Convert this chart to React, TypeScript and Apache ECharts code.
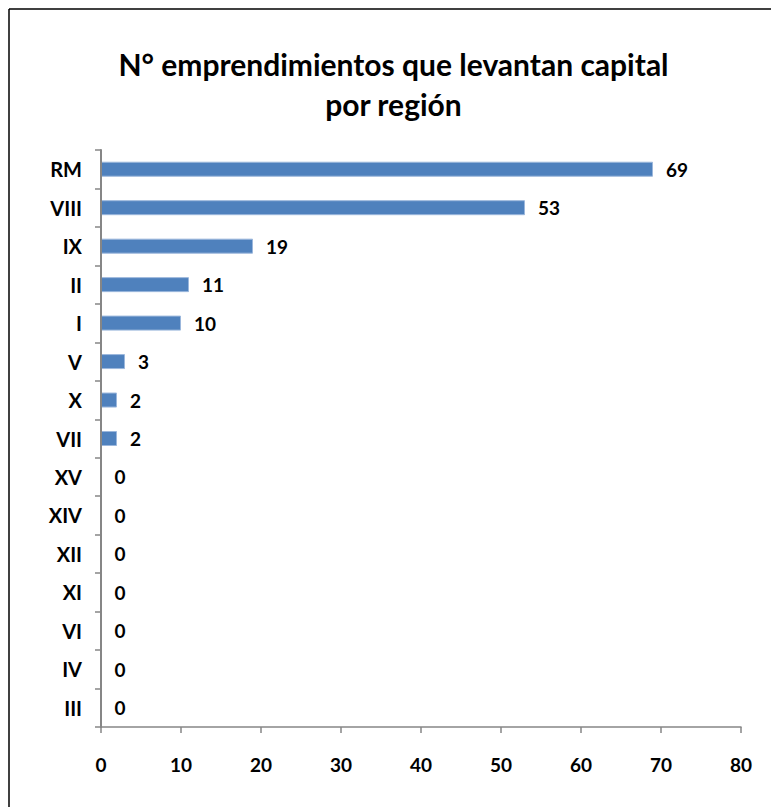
import React, { useEffect, useRef } from "react";
import * as echarts from "echarts";

const titleText = "N° emprendimientos que levantan capital\npor región";
const regions = ["RM", "VIII", "IX", "II", "I", "V", "X", "VII", "XV", "XIV", "XII", "XI", "VI", "IV", "III"];
const counts = [69, 53, 19, 11, 10, 3, 2, 2, 0, 0, 0, 0, 0, 0, 0];
const xMin = 0;
const xMax = 80;
const xStep = 10;

const FONT = "Lato, 'Open Sans', 'DejaVu Sans', sans-serif";

export default function App() {
  const ref = useRef<HTMLDivElement>(null);
  useEffect(() => {
    if (!ref.current) return;
    const chart = echarts.init(ref.current, undefined, { renderer: "svg" });
    chart.setOption({
      animation: false,
      backgroundColor: "#ffffff",
      title: {
        text: titleText,
        left: "center",
        top: 31,
        textStyle: {
          fontFamily: FONT,
          fontWeight: "bold",
          fontSize: 30,
          lineHeight: 40,
          color: "#000",
        },
      },
      graphic: [
        { type: "line", shape: { x1: 1, y1: 1, x2: 1, y2: 799 }, style: { stroke: "#000", lineWidth: 1.5 } },
        { type: "line", shape: { x1: 1, y1: 1, x2: 771, y2: 1 }, style: { stroke: "#000", lineWidth: 1.5 } },
      ],
      grid: { left: 93, right: 38, top: 142, bottom: 80, containLabel: false },
      xAxis: {
        type: "value",
        min: xMin,
        max: xMax,
        interval: xStep,
        splitLine: { show: false },
        axisLine: { show: true, lineStyle: { color: "#868686", width: 1.5 } },
        axisTick: { show: true, length: 6, lineStyle: { color: "#868686", width: 1.5 } },
        axisLabel: { fontFamily: FONT, fontWeight: "bold", fontSize: 19, color: "#000", margin: 28 },
      },
      yAxis: {
        type: "category",
        data: regions,
        inverse: true,
        z: 5,
        axisLine: { show: true, onZero: false, lineStyle: { color: "#868686", width: 2, type: "solid" } },
        axisTick: { show: true, inside: false, length: 6, lineStyle: { color: "#868686", width: 1.5 } },
        axisLabel: { fontFamily: FONT, fontWeight: "bold", fontSize: 20, color: "#000", margin: 19 },
      },
      series: [
        {
          type: "bar",
          data: counts,
          barWidth: 15,
          itemStyle: { color: "#4F81BD", borderColor: "#9bb7dc", borderWidth: 1 },
          label: {
            show: true,
            position: "right",
            distance: 13,
            fontFamily: FONT,
            fontWeight: "bold",
            fontSize: 19,
            color: "#000",
          },
        },
      ],
    });
    return () => chart.dispose();
  }, []);
  return <div ref={ref} style={{ width: 771, height: 799 }} />;
}
